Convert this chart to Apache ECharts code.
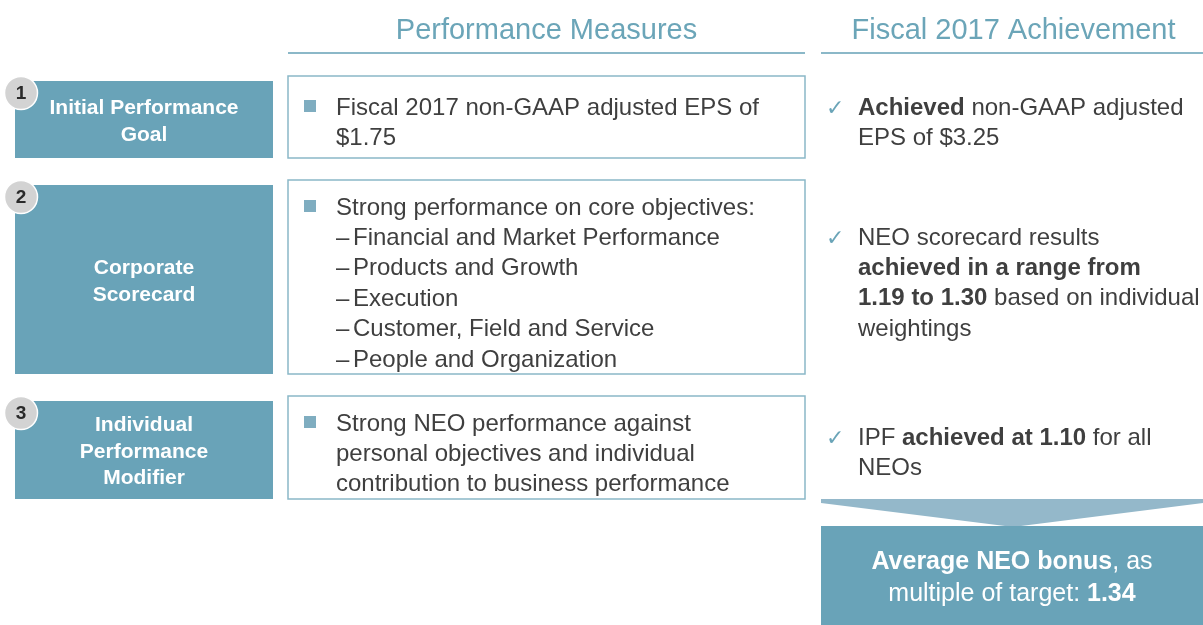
<!DOCTYPE html>
<html>
<head>
<meta charset="utf-8">
<script src="https://cdn.jsdelivr.net/npm/echarts@6/dist/echarts.min.js"></script>
<style>
  html, body { margin: 0; padding: 0; background: #fff; }
  #main { width: 1203px; height: 625px; }
</style>
</head>
<body>
<div id="main"></div>
<script>
// content of the diagram
const headers = ['Performance Measures', 'Fiscal 2017 Achievement'];
const stepNumbers = ['1', '2', '3'];
const goals = ['Initial Performance\nGoal', 'Corporate\nScorecard', 'Individual\nPerformance\nModifier'];
const measureLead = [
  'Fiscal 2017 non-GAAP adjusted EPS of\n$1.75',
  'Strong performance on core objectives:',
  'Strong NEO performance against\npersonal objectives and individual\ncontribution to business performance'
];
const scorecardItems = [
  'Financial and Market Performance',
  'Products and Growth',
  'Execution',
  'Customer, Field and Service',
  'People and Organization'
];
const achievements = [
  '{b|Achieved} non-GAAP adjusted\nEPS of $3.25',
  'NEO scorecard results\n{b|achieved in a range from}\n{b|1.19 to 1.30} based on individual\nweightings',
  'IPF {b|achieved at 1.10} for all\nNEOs'
];
const result = '{b|Average NEO bonus}, as\nmultiple of target: {b|1.34}';

// layout
const rowTop = [81, 185, 401];
const rowBottom = [158, 374, 499];
const midTop = [76, 180, 396];
const measureLine = [106, 206, 422];   // centre of first text line
const achieveLine = [106, 236, 436];
const LH = 30.4;
const FS = 24;
const DY = 2;   // glyph centring correction
const FONT = '"Liberation Sans", Arial, sans-serif';
const TEAL = '#69a3b8';
const TEXT = '#3f3f3f';

const chart = echarts.init(document.getElementById('main'));
const g = [];

// headers
[[546.5, 288, 805], [1013.5, 821, 1203]].forEach(function (h, i) {
  g.push({
    type: 'text', x: h[0], y: 29 + DY,
    style: { text: headers[i], fontFamily: FONT, fontSize: 29, fill: '#6ba5b8', align: 'center', verticalAlign: 'middle' }
  });
  g.push({
    type: 'line', shape: { x1: h[1], y1: 53, x2: h[2], y2: 53 },
    style: { stroke: '#8bb8c8', lineWidth: 2 }
  });
});

goals.forEach(function (name, i) {
  const top = rowTop[i], bot = rowBottom[i];
  g.push({
    type: 'rect', shape: { x: 15, y: top, width: 258, height: bot - top },
    style: { fill: TEAL }
  });
  g.push({
    type: 'text', x: 144, y: (top + bot) / 2 + DY,
    style: {
      text: name, fontFamily: FONT, fontSize: 21, fontWeight: 'bold', fill: '#fff',
      align: 'center', verticalAlign: 'middle', lineHeight: 26.5
    }
  });
  g.push({
    type: 'circle', shape: { cx: 21, cy: top + 12, r: 16.5 },
    style: { fill: '#d3d3d3', stroke: '#fff', lineWidth: 1.5 }
  });
  g.push({
    type: 'text', x: 21, y: top + 13,
    style: { text: stepNumbers[i], fontFamily: FONT, fontSize: 19, fontWeight: 'bold', fill: '#2a2a2a', align: 'center', verticalAlign: 'middle' }
  });

  // measures box
  g.push({
    type: 'rect', shape: { x: 288, y: midTop[i], width: 517, height: bot - midTop[i] },
    style: { fill: '#fff', stroke: '#8bb8c8', lineWidth: 1.5 }
  });
  g.push({
    type: 'rect', shape: { x: 304, y: measureLine[i] - 6, width: 12, height: 12 },
    style: { fill: '#7fadc0' }
  });
  g.push({
    type: 'text', x: 336, y: measureLine[i] - LH / 2 + DY,
    style: { text: measureLead[i], fontFamily: FONT, fontSize: FS, fill: TEXT, verticalAlign: 'top', lineHeight: LH }
  });

  // achievements
  g.push({
    type: 'text', x: 826, y: achieveLine[i] - LH / 2 + 3,
    style: { text: '\u2713', fontFamily: '"DejaVu Sans", sans-serif', fontSize: 22, fill: '#6ba5b8', verticalAlign: 'top', lineHeight: LH }
  });
  g.push({
    type: 'text', x: 858, y: achieveLine[i] - LH / 2 + DY,
    style: {
      text: achievements[i], fontFamily: FONT, fontSize: FS, fill: TEXT, verticalAlign: 'top', lineHeight: LH,
      rich: { b: { fontFamily: FONT, fontSize: FS, fontWeight: 'bold', fill: TEXT, lineHeight: LH } }
    }
  });
});

// scorecard sub-items
scorecardItems.forEach(function (item, j) {
  const y = measureLine[1] - LH / 2 + LH * (j + 1) + DY;
  g.push({
    type: 'text', x: 336, y: y,
    style: { text: '\u2013', fontFamily: FONT, fontSize: FS, fill: TEXT, verticalAlign: 'top', lineHeight: LH }
  });
  g.push({
    type: 'text', x: 353, y: y,
    style: { text: item, fontFamily: FONT, fontSize: FS, fill: TEXT, verticalAlign: 'top', lineHeight: LH }
  });
});

// arrow + result box
g.push({
  type: 'polygon',
  shape: { points: [[821, 499], [1203, 499], [1203, 503], [1013, 527], [821, 503]] },
  style: { fill: '#94b8ca' }
});
g.push({
  type: 'rect', shape: { x: 821, y: 526, width: 382, height: 99 },
  style: { fill: TEAL }
});
g.push({
  type: 'text', x: 1012, y: 576 + DY,
  style: {
    text: result, fontFamily: FONT, fontSize: 25, fill: '#fff', align: 'center', verticalAlign: 'middle', lineHeight: 32,
    rich: { b: { fontFamily: FONT, fontSize: 25, fontWeight: 'bold', fill: '#fff', lineHeight: 32 } }
  }
});

chart.setOption({
  backgroundColor: '#fff',
  animation: false,
  graphic: { elements: g }
});
</script>
</body>
</html>
